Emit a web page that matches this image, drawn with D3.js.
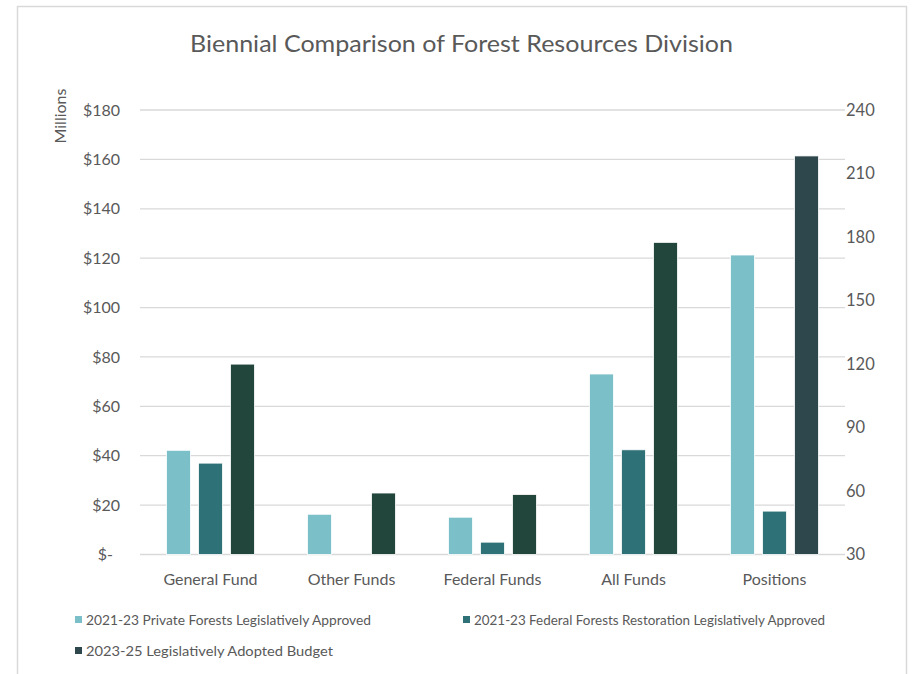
<!DOCTYPE html>
<html><head><meta charset="utf-8">
<script src="https://cdn.jsdelivr.net/npm/d3@7/dist/d3.min.js"></script>
<style>body{margin:0;background:#fff;font-family:Lato,"Open Sans",sans-serif;}</style>
</head><body><svg id="c" width="913" height="674"></svg>
<script>
const categories = ["General Fund","Other Funds","Federal Funds","All Funds","Positions"];
const seriesNames = ["2021-23 Private Forests Legislatively Approved","2021-23 Federal Forests Restoration Legislatively Approved","2023-25 Legislatively Adopted Budget"];
const privateForests = [42.2, 16.3, 15.1, 73.1, 171.5];
const federalRestoration = [37.0, null, 5.0, 42.4, 50.5];
const adoptedBudget = [77.1, 24.9, 24.3, 126.4, 218.3];
const leftTicks = [0,20,40,60,80,100,120,140,160,180];
const rightTicks = [30,60,90,120,150,180,210,240];
const colors = ["#7bbfc8","#2e7277","#22463b"];
const positionsDarkColor = "#2d474c";

const svg = d3.select("#c");
const grey = "#595959";
// chart border
svg.append("rect").attr("x",17.5).attr("y",6.5).attr("width",889).attr("height",700)
  .attr("fill","#fff").attr("stroke","#d9d9d9").attr("stroke-width",1.5);

const L = 140, R = 845, T = 110, B = 554.5;
const x0 = d3.scaleBand().domain(categories).range([L,R]).paddingInner(0.376).paddingOuter(0.188);
const x1 = d3.scaleBand().domain([0,1,2]).range([0,x0.bandwidth()]).paddingInner(0.25);
const yL = d3.scaleLinear().domain([0,180]).range([B,T]);
const yR = d3.scaleLinear().domain([30,240]).range([B,T]);

// title
svg.append("text").attr("x",461.5).attr("y",52).attr("text-anchor","middle")
  .attr("font-size",24).attr("fill",grey)
  .attr("textLength",543).attr("lengthAdjust","spacingAndGlyphs")
  .text("Biennial Comparison of Forest Resources Division");

// gridlines
svg.append("g").selectAll("line").data(leftTicks).join("line")
  .attr("x1",L).attr("x2",R).attr("y1",d=>yL(d)).attr("y2",d=>yL(d))
  .attr("stroke","#d9d9d9").attr("stroke-width",1.3);

// left axis labels
const fmtL = d => d===0 ? "$-" : "$"+d;
svg.append("g").selectAll("text").data(leftTicks).join("text")
  .attr("x",d=>d===0?113:120).attr("y",d=>yL(d)).attr("dy","0.35em")
  .attr("text-anchor","end").attr("font-size",16).attr("fill",grey).text(fmtL);
// right axis labels
svg.append("g").selectAll("text").data(rightTicks).join("text")
  .attr("x",846).attr("y",d=>yR(d)).attr("dy","0.35em")
  .attr("text-anchor","start").attr("font-size",16.5).attr("fill",grey).text(d=>d);

// Millions
svg.append("text").attr("transform","translate(66,116) rotate(-90)")
  .attr("text-anchor","middle").attr("font-size",16).attr("fill",grey).text("Millions");

// bars
const seriesVals = [privateForests, federalRestoration, adoptedBudget];
const data = [];
seriesVals.forEach((vals,s)=>vals.forEach((v,i)=>{
  if(v==null) return;
  const isPos = categories[i]==="Positions";
  data.push({s, cat:categories[i], v, isPos});
}));
svg.append("g").selectAll("rect").data(data).join("rect")
  .attr("x",d=>x0(d.cat)+x1(d.s))
  .attr("width",x1.bandwidth())
  .attr("y",d=> d.isPos ? yR(d.v) : yL(d.v))
  .attr("height",d=> d.isPos ? yR(30)-yR(d.v) : yL(0)-yL(d.v))
  .attr("fill",d=> (d.isPos && d.s===2) ? positionsDarkColor : colors[d.s])
  .attr("stroke","#fff").attr("stroke-width",0.8);

// category labels
svg.append("g").selectAll("text").data(categories).join("text")
  .attr("x",d=>x0(d)+x0.bandwidth()/2).attr("y",585).attr("text-anchor","middle")
  .attr("font-size",16).attr("fill",grey).text(d=>d);

// legend
const legPos = [[75,620],[463,620],[75,651]];
const legWidths = [285,351,247];
const lg = svg.append("g").selectAll("g").data(seriesNames).join("g")
  .attr("transform",(d,i)=>`translate(${legPos[i][0]},${legPos[i][1]})`);
lg.append("rect").attr("x",0).attr("y",-4).attr("width",7).attr("height",7)
  .attr("fill",(d,i)=>i===2?positionsDarkColor:colors[i]);
lg.append("text").attr("x",11).attr("y",0).attr("dy","0.35em")
  .attr("font-size",13).attr("fill",grey)
  .attr("textLength",(d,i)=>legWidths[i]).attr("lengthAdjust","spacingAndGlyphs")
  .text(d=>d);
</script></body></html>
